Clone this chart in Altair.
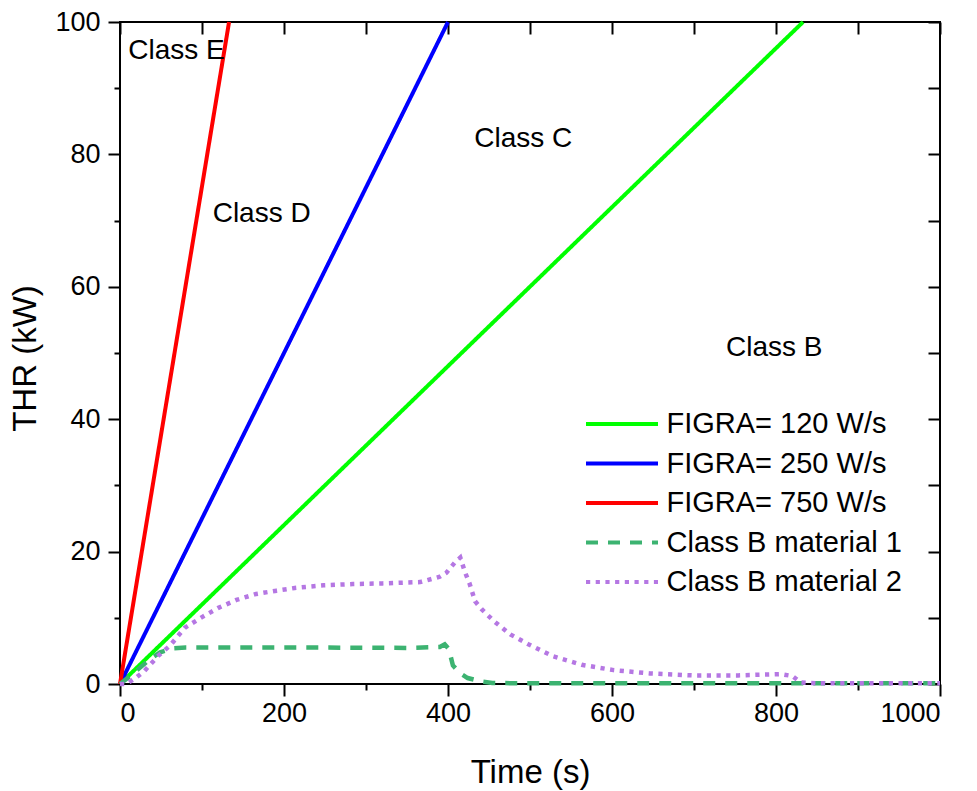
import altair as alt
import pandas as pd

# Series names, colours and dash patterns (in legend order)
series = ["FIGRA= 120 W/s", "FIGRA= 250 W/s", "FIGRA= 750 W/s",
          "Class B material 1", "Class B material 2"]
colors = ["#00ff00", "#0000ff", "#ff0000", "#3cb371", "#b577e3"]
dashes = [[1, 0], [1, 0], [1, 0], [12, 10], [4.2, 5.5]]

# FIGRA limit lines (time in s, THR in kW)
figra_t = [[0, 833], [0, 400], [0, 133]]
figra_thr = [[0, 100], [0, 100], [0, 100]]

# Class B material 1
m1_t = [0, 10, 20, 37, 49, 65, 80, 150, 250, 350, 390, 396, 401, 406, 415,
        424, 440, 454, 500, 600, 800, 1000]
m1_thr = [0, 1.0, 2.0, 3.8, 4.8, 5.4, 5.5, 5.5, 5.5, 5.45, 5.6, 6.0, 5.3, 2.8,
          1.6, 0.9, 0.4, 0.15, 0.1, 0.1, 0.1, 0.1]

# Class B material 2
m2_t = [0, 8, 20, 30, 47, 61, 79, 100, 120, 142, 166, 191, 213, 248, 284, 320,
        366, 390, 398, 408, 415, 421, 426, 433, 441, 456, 476, 498, 528, 563,
        602, 646, 698, 754, 806, 820, 830, 850, 1000]
m2_thr = [0, 0, 1.0, 2.0, 4.3, 5.8, 8.5, 10.1, 11.5, 12.7, 13.6, 14.1, 14.5,
          14.9, 15.1, 15.2, 15.4, 16.2, 16.8, 18.3, 19.1, 16.8, 15.3, 12.5,
          11.3, 9.5, 7.5, 6.0, 4.2, 2.9, 2.1, 1.6, 1.3, 1.3, 1.5, 1.2, 0.25,
          0.1, 0.1]

# Region labels
class_labels = ["Class E", "Class D", "Class C", "Class B"]
class_t = [10, 113, 432, 739]
class_thr = [94.4, 69.8, 81.1, 49.5]

FONT = "Liberation Sans"

figra_rows = []
for name, ts, ys in zip(series[:3], figra_t, figra_thr):
    for i, (t, y) in enumerate(zip(ts, ys)):
        figra_rows.append({"series": name, "t": t, "thr": y, "order": i})
figra_df = pd.DataFrame(figra_rows)

mat_rows = []
for name, ts, ys in zip(series[3:], [m1_t, m2_t], [m1_thr, m2_thr]):
    for i, (t, y) in enumerate(zip(ts, ys)):
        mat_rows.append({"series": name, "t": t, "thr": y, "order": i})
mat_df = pd.DataFrame(mat_rows)

label_df = pd.DataFrame({"label": class_labels, "t": class_t, "thr": class_thr})

x_scale = alt.Scale(domain=[0, 1000], nice=False, zero=False)
y_scale = alt.Scale(domain=[0, 100], nice=False, zero=False)

# Legend line samples: a long horizontal path on a small nominal symbol size,
# so that the entry height follows the label font rather than the line length.
legend = alt.Legend(
    title=None, orient="none", legendX=466, legendY=387.5, padding=0,
    symbolType="M-2.88,0H2.88", symbolSize=625, symbolStrokeWidth=4,
    symbolOffset=21.5,
    labelFont=FONT, labelFontSize=29, labelColor="black", labelOffset=30,
    rowPadding=9.5, labelLimit=400,
)
color_enc = alt.Color("series:N", scale=alt.Scale(domain=series, range=colors),
                      legend=legend)
dash_enc = alt.StrokeDash("series:N", scale=alt.Scale(domain=series, range=dashes),
                          legend=legend)

common_axis = dict(domain=False, grid=False, tickColor="black", tickWidth=2)

x_main = alt.Axis(values=list(range(0, 1001, 200)), format="d", tickSize=12,
                  labelFont=FONT, labelFontSize=27, labelColor="black",
                  labelPadding=4, title="Time (s)", titleFont=FONT,
                  titleFontSize=33, titleFontWeight="normal", titleColor="black",
                  titleY=98, titleBaseline="alphabetic", **common_axis)
y_main = alt.Axis(values=list(range(0, 101, 20)), format="d", tickSize=12,
                  labelFont=FONT, labelFontSize=27, labelColor="black",
                  labelPadding=8, title="THR (kW)", titleFont=FONT,
                  titleFontSize=33, titleFontWeight="normal", titleColor="black",
                  titleX=-85, titleY=336, titleBaseline="alphabetic",
                  **common_axis)

x_minor = alt.Axis(orient="bottom", values=list(range(100, 1000, 200)),
                   tickSize=6, labels=False, title=None, **common_axis)
y_minor = alt.Axis(orient="left", values=list(range(10, 100, 20)),
                   tickSize=6, labels=False, title=None, **common_axis)

x_top = alt.Axis(orient="top", offset=-12, values=list(range(0, 1001, 100)),
                 tickSize=12, labels=False, title=None, **common_axis)
y_right = alt.Axis(orient="right", offset=-12, values=list(range(0, 101, 10)),
                   tickSize=12, labels=False, title=None, **common_axis)

figra_lines = alt.Chart(figra_df).mark_line(strokeWidth=4).encode(
    x=alt.X("t:Q", scale=x_scale, axis=x_main),
    y=alt.Y("thr:Q", scale=y_scale, axis=y_main),
    color=color_enc,
    strokeDash=dash_enc,
    order="order:Q",
)

mat_lines = alt.Chart(mat_df).mark_line(strokeWidth=4.5).encode(
    x=alt.X("t:Q", scale=x_scale, axis=x_minor),
    y=alt.Y("thr:Q", scale=y_scale, axis=y_minor),
    color=color_enc,
    strokeDash=dash_enc,
    order="order:Q",
)

labels = alt.Chart(label_df).mark_text(
    align="left", baseline="alphabetic", font=FONT, fontSize=28, color="black"
).encode(
    x=alt.X("t:Q", scale=x_scale, axis=x_top),
    y=alt.Y("thr:Q", scale=y_scale, axis=y_right),
    text="label:N",
)

chart = (
    alt.layer(figra_lines, mat_lines, labels)
    .resolve_axis(x="independent", y="independent")
    .properties(
        width=820, height=662,
        autosize=alt.AutoSizeParams(type="none"),
        padding={"left": 120, "top": 22, "right": 37, "bottom": 107},
        background="white",
    )
    .configure_view(stroke="black", strokeWidth=2)
)

chart.save("out.html", embed_options={"renderer": "svg", "actions": False})
